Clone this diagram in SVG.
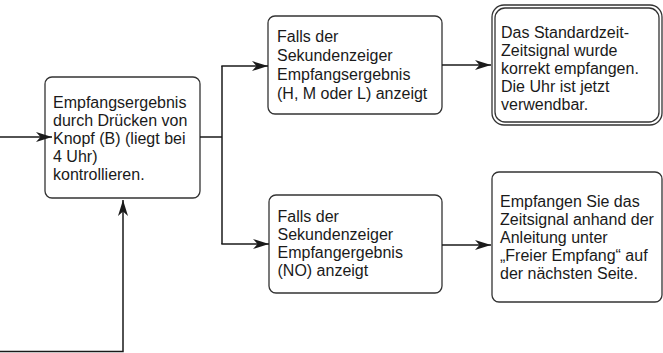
<svg xmlns="http://www.w3.org/2000/svg" width="663" height="353" viewBox="0 0 663 353">
<defs>
<marker id="arr" viewBox="-16 -6 17 12" refX="0" refY="0" markerWidth="17" markerHeight="12" markerUnits="userSpaceOnUse" orient="auto">
<path d="M0,0 L-16,-5 L-11.5,0 L-16,5 Z" fill="#1a1a1a"/>
</marker>
</defs>
<style>
.box{fill:#fff;stroke:#333;stroke-width:1.3}
.t{font-family:"Liberation Sans",Arial,sans-serif;font-size:16px;fill:#1a1a1a}
.c{fill:none;stroke:#1a1a1a;stroke-width:1.5}
</style>
<rect width="663" height="353" fill="#fff"/>
<g id="n1">
<rect class="box" x="45" y="77" width="155" height="121" rx="7"/>
<text class="t"><tspan x="53" y="107.7">Empfangsergebnis</tspan><tspan x="53" y="125.8">durch Drücken von</tspan><tspan x="53" y="143.9">Knopf (B) (liegt bei</tspan><tspan x="53" y="162">4 Uhr)</tspan><tspan x="53" y="180">kontrollieren.</tspan></text>
</g>
<g id="n2">
<rect class="box" x="268" y="16" width="174" height="98" rx="7"/>
<text class="t"><tspan x="277" y="42.3">Falls der</tspan><tspan x="277" y="61.3">Sekundenzeiger</tspan><tspan x="277" y="80.3">Empfangsergebnis</tspan><tspan x="277" y="99.3">(H, M oder L) anzeigt</tspan></text>
</g>
<g id="n3">
<rect class="box" x="492" y="5" width="170" height="120" rx="12"/>
<rect class="box" x="495" y="8" width="164" height="114" rx="10"/>
<text class="t"><tspan x="501" y="38.3">Das Standardzeit-</tspan><tspan x="501" y="56.2">Zeitsignal wurde</tspan><tspan x="501" y="74.1">korrekt empfangen.</tspan><tspan x="501" y="92">Die Uhr ist jetzt</tspan><tspan x="501" y="110">verwendbar.</tspan></text>
</g>
<g id="n4">
<rect class="box" x="269" y="195" width="173" height="98" rx="7"/>
<text class="t"><tspan x="277.5" y="221.7">Falls der</tspan><tspan x="277.5" y="239.8">Sekundenzeiger</tspan><tspan x="277.5" y="257.9">Empfangergebnis</tspan><tspan x="277.5" y="276">(NO) anzeigt</tspan></text>
</g>
<g id="n5">
<rect class="box" x="492" y="172" width="170" height="130" rx="7"/>
<text class="t"><tspan x="500" y="207.3">Empfangen Sie das</tspan><tspan x="500" y="225.3">Zeitsignal anhand der</tspan><tspan x="500" y="243.3">Anleitung unter</tspan><tspan x="500" y="261.3">„Freier Empfang“ auf</tspan><tspan x="500" y="279.3">der nächsten Seite.</tspan></text>
</g>
<g id="connectors">
<line class="c" x1="0" y1="137" x2="52" y2="137" marker-end="url(#arr)"/>
<line class="c" x1="200" y1="137" x2="222" y2="137"/>
<line class="c" x1="222" y1="66" x2="222" y2="244"/>
<line class="c" x1="221.3" y1="66" x2="268" y2="66" marker-end="url(#arr)"/>
<line class="c" x1="221.3" y1="244" x2="269" y2="244" marker-end="url(#arr)"/>
<line class="c" x1="442" y1="65" x2="491" y2="65" marker-end="url(#arr)"/>
<line class="c" x1="442" y1="245" x2="491" y2="245" marker-end="url(#arr)"/>
<polyline class="c" points="0,351.5 123,351.5 123,200" marker-end="url(#arr)"/>
</g>
</svg>
